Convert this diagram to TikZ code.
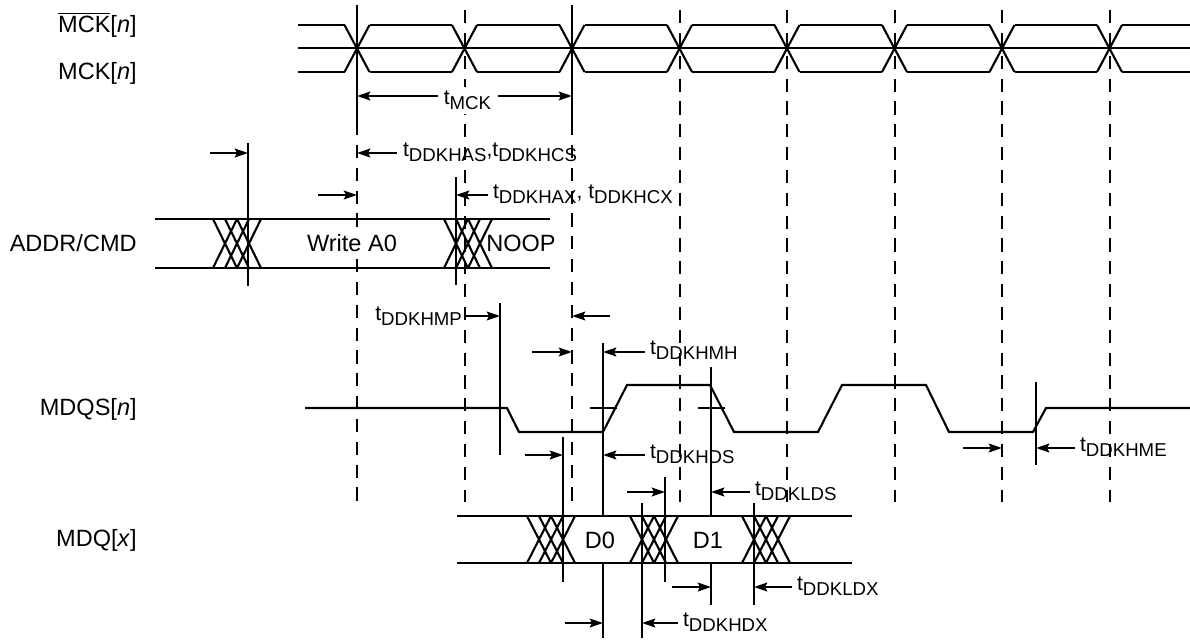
\documentclass[tikz,border=0pt]{standalone}
\usepackage{fontspec}
\setmainfont{Liberation Sans}
\usetikzlibrary{arrows.meta}

% delay name: t with a lowered subscript
\newcommand\tdel[1]{t\raisebox{-3.4pt}{\fontsize{10.6}{11}\selectfont #1}}

\tikzset{
  sig/.style={line width=1.2pt},
  grid/.style={line width=1.2pt, dash pattern=on 7.5pt off 5.5pt},
  meas/.style={line width=1.2pt, -{Stealth[length=7.5pt,width=5pt,inset=1.2pt]}},
  lbl/.style={anchor=east, inner sep=0pt, font=\fontsize{13.4}{15}\selectfont},
  tlbl/.style={anchor=base west, inner sep=1pt, font=\fontsize{12}{14}\selectfont},
  val/.style={inner sep=1pt, font=\fontsize{13.4}{15}\selectfont},
}

\begin{document}
\begin{tikzpicture}[x=0.02cm, y=-0.02cm]
  \useasboundingbox (0,0) rectangle (1190,639);

  % signal names
  \node[lbl] (mckb) at (137,25) {$\overline{\hbox{MCK}}$[\textit{n}]};
  \node[lbl] (mck)  at (137,73) {MCK[\textit{n}]};
  \node[lbl] (addr) at (137,243) {ADDR/CMD};
  \node[lbl] (mdqs) at (137,409) {MDQS[\textit{n}]};
  \node[lbl] (mdq)  at (137,540) {MDQ[\textit{x}]};

  % clock edges
  \draw[sig] (357,5) -- (357,122);
  \draw[sig] (572,5) -- (572,122);
  \draw[grid] (357,122) -- (357,502);
  \draw[grid] (572,122) -- (572,502);
  \foreach \c in {465,680,787,895,1002,1110}
    \draw[grid] (\c,10) -- (\c,502);

  % clock pair
  \draw[sig] (298,48) -- (1190,48);
  \draw[sig] (298,25) -- (345,25) (298,72) -- (345,72);
  \foreach \c in {357,464.5,...,1110} {
    \draw[sig] (\c-12.5,25) -- (\c+12.5,72) (\c-12.5,72) -- (\c+12.5,25);
    \draw[sig] (\c+12.5,25) -- ({min(\c+95,1190)},25)
               (\c+12.5,72) -- ({min(\c+95,1190)},72);
  }

  % busses
  \draw[sig] (155,219) -- (550,219) (155,268) -- (550,268);
  \draw[sig] (457,516) -- (852,516) (457,563) -- (852,563);
  \foreach \s/\t/\b in {213/219/268, 444/219/268, 527/516/563, 630/516/563, 742/516/563}
    \foreach \k in {0,1,2}
      \draw[sig] (\s+12*\k,\t) -- (\s+24+12*\k,\b) (\s+12*\k,\b) -- (\s+24+12*\k,\t);
  \node[val, fill=white] (wra0) at (352,243) {Write A0};
  \node[val] (noop) at (521,243) {NOOP};
  \node[val, fill=white] (d0) at (600,540) {D0};
  \node[val] (d1)   at (708,540) {D1};

  % strobe
  \draw[sig] (305,408) -- (507,408) -- (519,432) -- (603,432) -- (627,385)
    -- (710,385) -- (734,432) -- (818,432) -- (842,385) -- (926,385)
    -- (949,432) -- (1033,432) -- (1046,408) -- (1190,408);
  \draw[sig] (590,408) -- (617,408) (698,408) -- (725,408);

  % reference lines
  \draw[sig] (248,143) -- (248,286);
  \draw[sig] (456,177) -- (456,285);
  \draw[sig] (500,303) -- (500,455);
  \draw[sig] (603,343) -- (603,516) (603,563) -- (603,638);
  \draw[sig] (711,367) -- (711,516) (711,563) -- (711,605);
  \draw[sig] (1036,382) -- (1036,465);
  \draw[sig] (563,437) -- (563,582);
  \draw[sig] (665,477) -- (665,582);
  \draw[sig] (642,503) -- (642,638);
  \draw[sig] (754,503) -- (754,605);

  % timings
  \node[tlbl, fill=white, inner sep=2pt] (tmck) at (440,104) {\tdel{MCK}};
  \draw[meas] (438,96) -- (357,96);
  \draw[meas] (498,96) -- (572,96);

  \draw[meas] (210,153) -- (248,153);
  \draw[meas] (397,153) -- (357,153);
  \node[tlbl] (thas) at (401,156) {\tdel{DDKHAS},\tdel{DDKHCS}};

  \draw[meas] (318,195) -- (357,195);
  \draw[meas] (488,195) -- (456,195);
  \node[tlbl] (thax) at (491,198) {\tdel{DDKHAX}, \tdel{DDKHCX}};

  \node[tlbl, anchor=base east] (thmp) at (464,320) {\tdel{DDKHMP}};
  \draw[meas] (465,316) -- (500,316);
  \draw[meas] (610,316) -- (572,316);

  \draw[meas] (532,352) -- (572,352);
  \draw[meas] (645,352) -- (603,352);
  \node[tlbl] (thmh) at (648,354) {\tdel{DDKHMH}};

  \draw[meas] (525,455) -- (563,455);
  \draw[meas] (645,455) -- (603,455);
  \node[tlbl] (thds) at (648,458) {\tdel{DDKHDS}};

  \draw[meas] (963,448) -- (1002,448);
  \draw[meas] (1075,448) -- (1036,448);
  \node[tlbl] (thme) at (1078,451) {\tdel{DDKHME}};

  \draw[meas] (627,492) -- (665,492);
  \draw[meas] (750,492) -- (711,492);
  \node[tlbl] (tlds) at (753,495) {\tdel{DDKLDS}};

  \draw[meas] (672,587) -- (711,587);
  \draw[meas] (792,587) -- (754,587);
  \node[tlbl] (tldx) at (795,590) {\tdel{DDKLDX}};

  \draw[meas] (565,623) -- (603,623);
  \draw[meas] (678,623) -- (642,623);
  \node[tlbl] (thdx) at (681,626) {\tdel{DDKHDX}};
\end{tikzpicture}
\end{document}
